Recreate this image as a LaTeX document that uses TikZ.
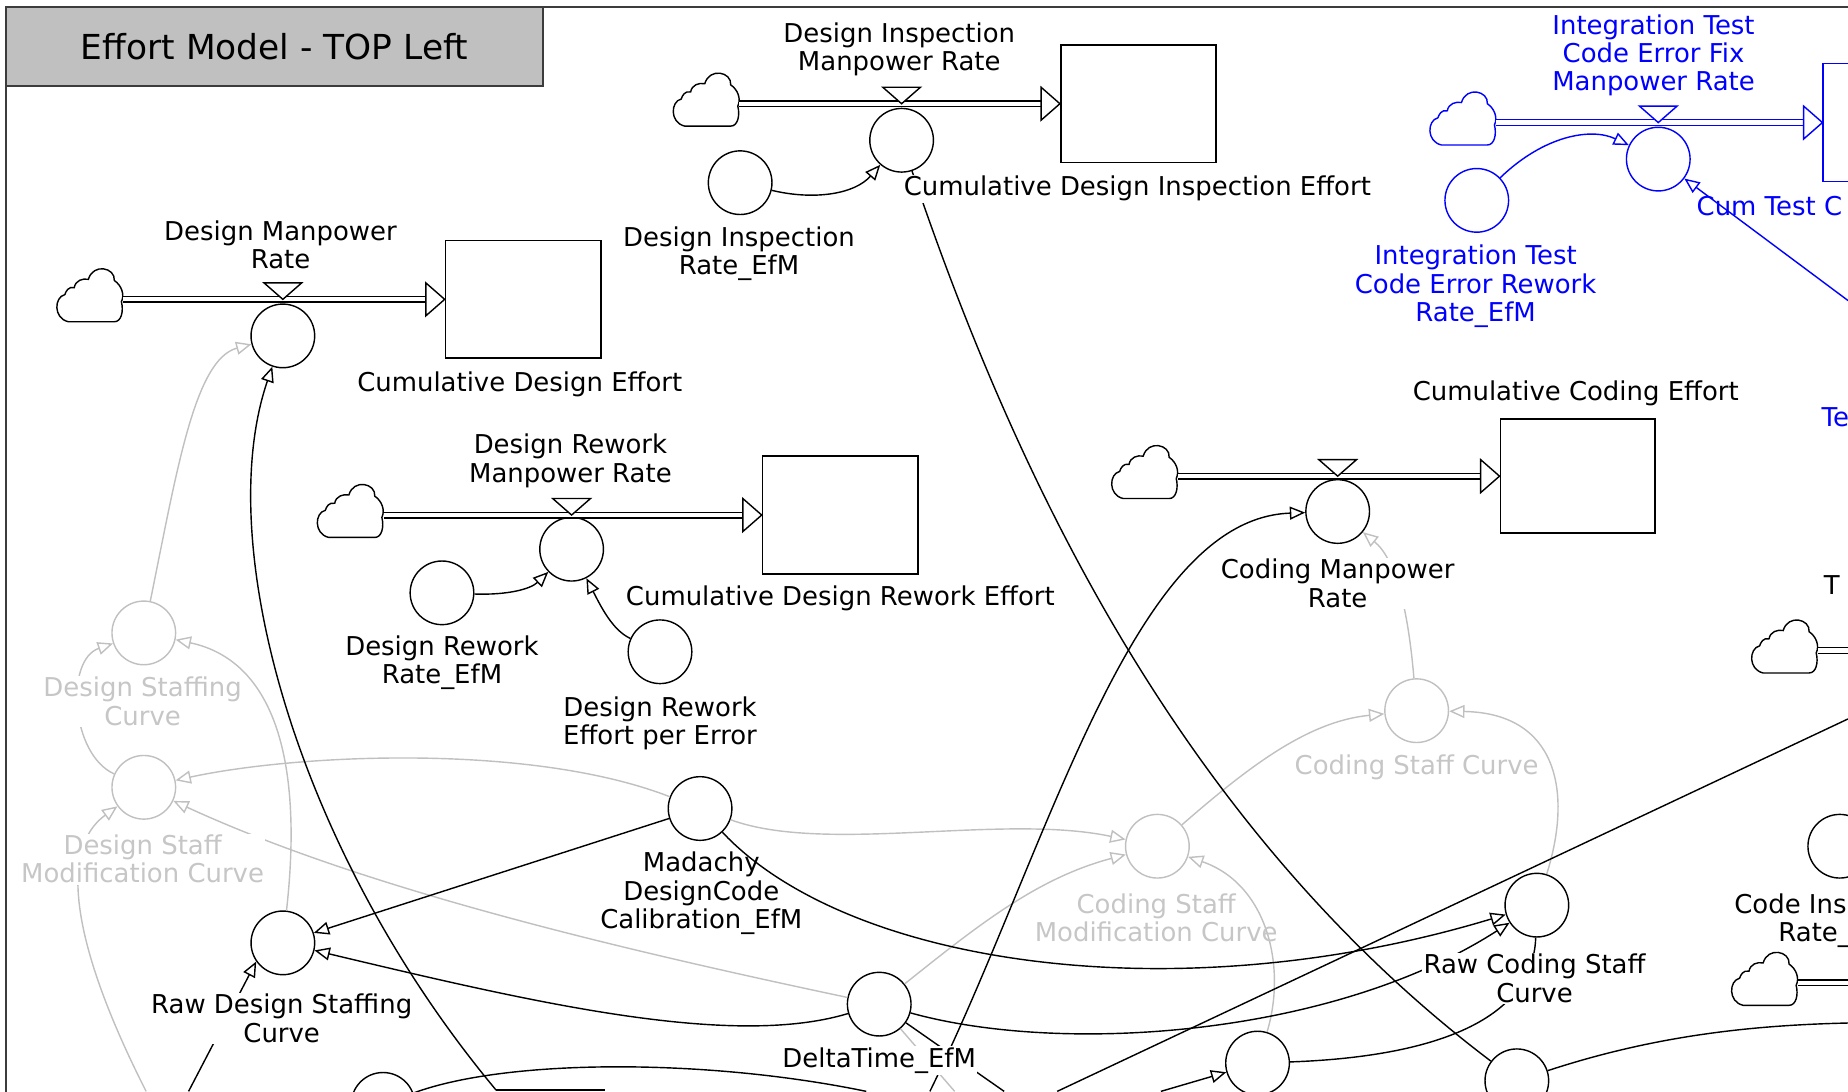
\documentclass[tikz,border=0pt]{standalone}
\usepackage{fontspec}
\setmainfont{DejaVu Sans}
\usetikzlibrary{arrows.meta,calc}

\definecolor{ghost}{RGB}{192,192,192}
\definecolor{ghosttext}{RGB}{198,198,198}
\definecolor{vblue}{RGB}{0,0,255}
\definecolor{titlegray}{RGB}{192,192,192}
\definecolor{framegray}{RGB}{60,60,60}

\tikzset{
  every node/.style={font=\fontsize{11}{12}\selectfont},
  lbl/.style={align=center, inner sep=0.6pt},
  opaque/.style={fill=white},
  aux/.style={draw, circle, minimum size=27pt, inner sep=0pt, line width=0.6pt},
  ghostaux/.style={aux, draw=ghost},
  stock/.style={draw, rectangle, line width=0.7pt, inner sep=0pt, minimum width=66pt, minimum height=50pt},
  cloudbox/.style={inner sep=0pt, minimum width=28pt, minimum height=23pt},
  pipe/.style={line width=0.6pt, double, double distance=1.8pt},
  pipehead/.style={line width=0.6pt, fill=white, line join=miter},
  valve/.style={line width=0.6pt, fill=white},
  link/.style={line width=0.6pt, -{Triangle[open, length=6.5pt, width=5.5pt]}},
  plain/.style={line width=0.6pt},
  vcloud/.pic={
    \draw[line width=0.6pt, fill=white]
      (-18,19) -- (21,19)
      .. controls (27,19) and (29,10) .. (27,2)
      .. controls (30,-4) and (27,-12) .. (21,-16)
      .. controls (22,-27) and (3,-31) .. (-1,-17)
      .. controls (-6,-18) and (-12,-16) .. (-13,-10)
      .. controls (-18,-11) and (-20,-7) .. (-21,-4)
      .. controls (-30,-2) and (-31,16) .. (-18,19) -- cycle;
  }
}

\begin{document}
\begin{tikzpicture}[x=0.5pt, y=-0.5pt]
\useasboundingbox (0,0) rectangle (1568,926);
\clip (0,0) rectangle (1568,926);

% ---------- frame and title ----------
\draw[framegray, line width=0.8pt] (5,935) -- (5,6) -- (1575,6);
\node[draw=framegray, line width=0.8pt, fill=titlegray, minimum width=228pt,
      minimum height=33.5pt, inner sep=0pt, font=\fontsize{14.6}{17}\selectfont]
      (title) at (233,39.5) {Effort Model - TOP Left};

% ---------- stocks ----------
\node[stock] (sde)  at (444,254) {};
\node[stock] (sdie) at (966,88) {};
\node[stock] (sdre) at (713,437) {};
\node[stock, minimum width=65.5pt, minimum height=48.5pt] (sce) at (1338.5,404) {};
\node[stock, draw=vblue, minimum width=70pt] (itbox) at (1617,104) {};

% ---------- clouds ----------
\node[cloudbox] (cl1) at (76,254) {};   \pic at (cl1) {vcloud};
\node[cloudbox] (cl2) at (599,88) {};   \pic at (cl2) {vcloud};
\node[cloudbox] (cl3) at (1241,104) {}; \pic[vblue] at (cl3) {vcloud};
\node[cloudbox] (cl4) at (297,437) {};  \pic at (cl4) {vcloud};
\node[cloudbox] (cl5) at (971,404) {};  \pic at (cl5) {vcloud};
\node[cloudbox] (cl6) at (1514,552) {}; \pic at (cl6) {vcloud};
\node[cloudbox] (cl7) at (1497,834) {}; \pic at (cl7) {vcloud};
\coordinate (redge) at (1580,0);

% ---------- rates ----------
\node[aux] (dmr)  at (240,285) {};
\node[aux] (dimr) at (765,119) {};
\node[aux] (drmr) at (485,466) {};
\node[aux] (cmr)  at (1135,434) {};
\node[aux, draw=vblue] (itr) at (1407,135) {};

% ---------- auxiliaries ----------
\node[aux] (dir)   at (628,155) {};
\node[aux, draw=vblue] (itaux) at (1253,170) {};
\node[aux] (drr)   at (375,503) {};
\node[aux] (drepe) at (560,553) {};
\node[aux] (mad)   at (594,686) {};
\node[aux] (rdsc)  at (240,800) {};
\node[aux] (dt)    at (746,852) {};
\node[aux] (rcsc)  at (1304,768) {};
\node[aux] (c1067) at (1067,902) {};
\node[aux] (c1287) at (1287,917) {};
\node[aux] (c325)  at (325,937) {};
\node[aux] (cir)   at (1561,718) {};
\node[ghostaux] (dsc)  at (122,537) {};
\node[ghostaux] (dsmc) at (122,668) {};
\node[ghostaux] (csc)  at (1202,603) {};
\node[ghostaux] (csmc) at (982,718) {};

% ---------- flows ----------
\draw[pipe] (cl1.east) -- ([xshift=-8pt]sde.west);
\draw[pipehead] (sde.west) -- ++(-16,-14) -- ++(0,28) -- cycle;
\coordinate (v1) at (dmr |- sde.west);
\draw[valve] (v1) -- ++(-16,-14) -- ++(32,0) -- cycle;

\draw[pipe] (cl2.east) -- ([xshift=-8pt]sdie.west);
\draw[pipehead] (sdie.west) -- ++(-16,-14) -- ++(0,28) -- cycle;
\coordinate (v2) at (dimr |- sdie.west);
\draw[valve] (v2) -- ++(-16,-14) -- ++(32,0) -- cycle;

\draw[pipe] (cl4.east) -- ([xshift=-8pt]sdre.west);
\draw[pipehead] (sdre.west) -- ++(-16,-14) -- ++(0,28) -- cycle;
\coordinate (v3) at (drmr |- sdre.west);
\draw[valve] (v3) -- ++(-16,-14) -- ++(32,0) -- cycle;

\draw[pipe] (cl5.east) -- ([xshift=-8pt]sce.west);
\draw[pipehead] (sce.west) -- ++(-16,-14) -- ++(0,28) -- cycle;
\coordinate (v4) at (cmr |- sce.west);
\draw[valve] (v4) -- ++(-16,-14) -- ++(32,0) -- cycle;

\begin{scope}[vblue]
\draw[pipe] (cl3.east) -- ([xshift=-8pt]itbox.west);
\draw[pipehead] (itbox.west) -- ++(-16,-14) -- ++(0,28) -- cycle;
\coordinate (v5) at (itr |- itbox.west);
\draw[valve] (v5) -- ++(-16,-14) -- ++(32,0) -- cycle;
\end{scope}

\draw[pipe] (cl6.east) -- (cl6.east -| redge);
\draw[pipe] (cl7.east) -- (cl7.east -| redge);

% ---------- gray links ----------
\begin{scope}[ghost]
\draw[link] (dsc) .. controls (150,400) and (165,305) .. (dmr);
\draw[link] (rdsc) .. controls (258,640) and (230,560) .. (dsc);
\draw[link] (dsmc) .. controls (60,640) and (55,560) .. (dsc);
\coordinate (gA) at (124,926);
\draw[link] (gA) .. controls (60,800) and (50,720) .. (dsmc);
\draw[link] (mad) .. controls (450,630) and (250,640) .. (dsmc);
\draw[link] (dt) .. controls (500,800) and (300,750) .. (dsmc);
\draw[link] (mad) .. controls (700,725) and (850,690) .. (csmc);
\draw[link] (dt) .. controls (830,785) and (880,745) .. (csmc);
\draw[link] (csmc) .. controls (1060,650) and (1110,612) .. (csc);
\draw[link] (rcsc) .. controls (1335,670) and (1320,605) .. (csc);
\draw[link] (csc) .. controls (1195,520) and (1185,475) .. (cmr);
\draw[link] (c1067) .. controls (1092,820) and (1075,750) .. (csmc);
\coordinate (dtG) at (810,926);
\draw[plain] (dt) -- (dtG);
\end{scope}

% ---------- black links ----------
\draw[link] (dir) .. controls (690,170) and (725,165) .. (dimr);
\draw[link] (drr) .. controls (430,505) and (450,500) .. (drmr);
\draw[link] (drepe) .. controls (520,535) and (510,515) .. (drmr);

\coordinate (aB) at (421,925);
\coordinate (aE) at (513,925);
\draw[link] (aB) .. controls (250,720) and (180,460) .. (dmr);
\draw[plain] (aB) -- (aE);
\draw[plain] (dimr) .. controls (860,400) and (1000,700) .. (c1287);
\coordinate (cB) at (789,926);
\draw[link] (cB) .. controls (890,720) and (960,440) .. (cmr);
\draw[link] (mad) -- (rdsc);
\draw[link] (mad) .. controls (720,820) and (1000,860) .. (rcsc);
\draw[link] (dt) .. controls (620,890) and (450,850) .. (rdsc);
\draw[link] (dt) .. controls (900,895) and (1130,880) .. (rcsc);
\coordinate (hA) at (897,926);
\coordinate (hB) at (1568,610);
\draw[plain] (hA) -- (hB);
\draw[plain] (c1067) .. controls (1180,898) and (1300,880) .. (rcsc);
\coordinate (jB) at (735,926);
\draw[plain] (c325) .. controls (430,898) and (600,898) .. (jB);
\coordinate (kA) at (160,926);
\draw[link] (kA) -- (rdsc.215);
\coordinate (lB) at (1568,868);
\draw[plain] (c1287) .. controls (1400,880) and (1480,870) .. (lB);
\coordinate (mB) at (852,926);
\draw[plain] (dt) -- (mB);
\coordinate (nA) at (985,926);
\draw[link] (nA) -- (c1067);

% ---------- labels ----------
\node[lbl] (dmrL)  at (238,208) {Design Manpower\\Rate};
\node[lbl] (sdeL)  at (441,326) {Cumulative Design Effort};
\node[lbl] (dimrL) at (763,42)  {Design Inspection\\Manpower Rate};
\node[lbl, opaque] (sdieL) at (965,160) {Cumulative Design Inspection Effort};
\node[lbl] (dirL)  at (627,215) {Design Inspection\\Rate\_EfM};
\node[lbl, vblue] (itrL) at (1403,47) {Integration Test\\Code Error Fix\\Manpower Rate};
\node[lbl, vblue, anchor=west] (itboxL) at (1438,175) {Cum Test C};
\node[lbl, vblue] (itauxL) at (1252,243) {Integration Test\\Code Error Rework\\Rate\_EfM};
\node[lbl] (drmrL) at (484,391) {Design Rework\\Manpower Rate};
\node[lbl] (sdreL) at (713,508) {Cumulative Design Rework Effort};
\node[lbl] (drrL)  at (375,562) {Design Rework\\Rate\_EfM};
\node[lbl] (drepeL) at (560,614) {Design Rework\\Effort per Error};
\node[lbl] (sceL)  at (1337,334) {Cumulative Coding Effort};
\node[lbl, opaque] (cmrL) at (1135,495) {Coding Manpower\\Rate};
\node[lbl, vblue, anchor=west] (teL) at (1544,354) {Te};
\node[lbl, anchor=west] (tL) at (1546,496) {T};
\node[lbl, opaque, text=ghosttext] (dscL)  at (121,595) {Design Staffing\\Curve};
\node[lbl, opaque, text=ghosttext] (dsmcL) at (121,729) {Design Staff\\Modification Curve};
\node[lbl, text=ghosttext] (cscL)  at (1202,651) {Coding Staff Curve};
\node[lbl, text=ghosttext] (csmcL) at (981,779) {Coding Staff\\Modification Curve};
\node[lbl] (madL)  at (595,758) {Madachy\\DesignCode\\Calibration\_EfM};
\node[lbl, opaque] (rdscL) at (239,864) {Raw Design Staffing\\Curve};
\node[lbl, opaque] (dtL)   at (746,900) {DeltaTime\_EfM};
\node[lbl, opaque] (rcscL) at (1302,830) {Raw Coding Staff\\Curve};
\node[lbl] (cirL)  at (1560,781) {Code Inspection\\Rate\_EfM};

% blue link drawn over its stock label
\coordinate (itA) at (1568,255);
\draw[link, vblue] (itaux) .. controls (1310,115) and (1350,108) .. (itr);
\draw[link, vblue] (itA) -- (itr);

\end{tikzpicture}
\end{document}
